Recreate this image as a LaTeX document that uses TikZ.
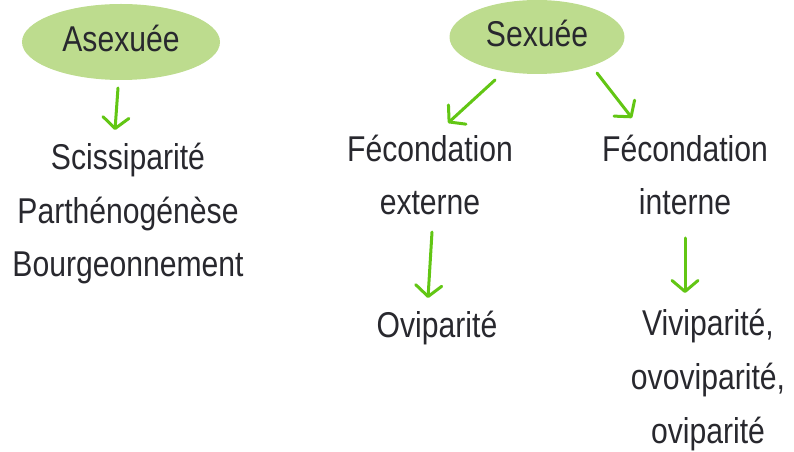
\documentclass[tikz,border=0pt]{standalone}
\usepackage{fontspec}
\setmainfont{Liberation Sans}[FakeStretch=0.84]
\usetikzlibrary{arrows.meta, shapes.geometric}

\definecolor{ovalgreen}{RGB}{189,220,142}
\definecolor{arrowgreen}{RGB}{98,198,20}
\definecolor{inkgray}{RGB}{40,40,46}

\begin{document}
\begin{tikzpicture}[x=1bp,y=-1bp,
    root/.style={ellipse, fill=ovalgreen, inner sep=0pt, text height=24bp, text depth=4bp},
    leaf/.style={align=center, anchor=base, inner sep=0pt},
    arr/.style={draw=arrowgreen, line width=3bp, line cap=round,
                -{Straight Barb[length=11bp,width=26bp,round]}}]

  \useasboundingbox (0,0) rectangle (794,452);
  \fontsize{36}{54}\selectfont
  \color{inkgray}

  % les deux types de reproduction
  \node[root, minimum width=198bp, minimum height=76bp] (asex) at (121,42) {Asexuée};
  \node[root, minimum width=175bp, minimum height=74bp] (sex) at (537,37) {Sexuée};

  \node[leaf] (sciss) at (128,277) {Scissiparité\\Parthénogénèse\\Bourgeonnement};
  \node[leaf] (fext) at (430,215) {Fécondation\\externe};
  \node[leaf] (fint) at (685,215) {Fécondation\\interne};
  \node[leaf] (ovi) at (437,338) {Oviparité};
  \node[leaf] (vivi) at (708,443) {Viviparité,\\ovoviparité,\\oviparité};

  \draw[arr] ([shift={(-3,46)}]asex.center) -- ([shift={(-13,-147)}]sciss.base);
  \draw[arr] ([shift={(-42,43)}]sex.center) -- ([shift={(18,-92)}]fext.base);
  \draw[arr] ([shift={(60,36)}]sex.center) -- ([shift={(-53,-97)}]fint.base);
  \draw[arr] ([shift={(2,17)}]fext.base) -- ([shift={(-9,-40)}]ovi.base);
  \draw[arr] ([shift={(0,23)}]fint.base) -- ([shift={(-23,-150)}]vivi.base);
\end{tikzpicture}
\end{document}
